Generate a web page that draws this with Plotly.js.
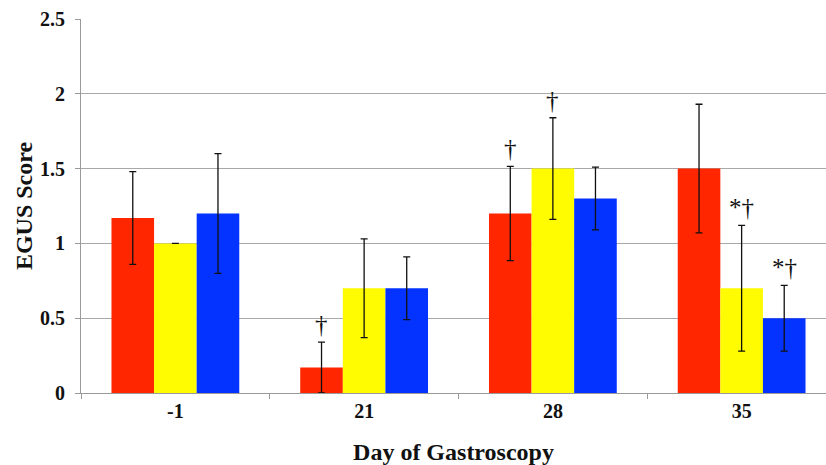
<!DOCTYPE html>
<html>
<head>
<meta charset="utf-8">
<script src="https://cdn.plot.ly/plotly-3.0.1.min.js"></script>
<style>html,body{margin:0;padding:0;background:#fff;}#chart{width:826px;height:465px;}</style>
</head>
<body>
<div id="chart"></div>
<script>
const days = ['-1', '21', '28', '35'];
const redValues = [1.17, 0.17, 1.20, 1.50];
const redErrors = [0.31, 0.17, 0.315, 0.43];
const yellowValues = [1.00, 0.70, 1.50, 0.70];
const yellowErrors = [0.0, 0.33, 0.34, 0.42];
const blueValues = [1.20, 0.70, 1.30, 0.50];
const blueErrors = [0.40, 0.21, 0.21, 0.22];
const redMarks = ['', '†', '†', ''];
const yellowMarks = ['', '', '†', '*†'];
const blueMarks = ['', '', '', '*†'];

const SERIF = '"Liberation Serif", "Times New Roman", serif';
const errStyle = {type: 'data', visible: true, color: '#111', thickness: 1.3, width: 3.5};
function series(vals, errs, color) {
  return {
    type: 'bar', x: days, y: vals,
    marker: {color: color, line: {width: 0}},
    error_y: Object.assign({array: errs}, errStyle),
    hoverinfo: 'none'
  };
}
const data = [
  series(redValues, redErrors, '#FF2600'),
  series(yellowValues, yellowErrors, '#FFFB00'),
  series(blueValues, blueErrors, '#0433FF')
];

const groupFrac = 0.677;
const barW = groupFrac / 3;
const annotations = [];
[[redMarks, redValues, redErrors, -1], [yellowMarks, yellowValues, yellowErrors, 0], [blueMarks, blueValues, blueErrors, 1]]
  .forEach(([marks, vals, errs, k]) => {
    marks.forEach((m, i) => {
      if (!m) return;
      annotations.push({
        x: i + k * barW, y: vals[i] + errs[i], xref: 'x', yref: 'y',
        text: m, showarrow: false, yanchor: 'bottom', yshift: 2,
        font: {family: SERIF, size: 25, color: '#111'}
      });
    });
  });

const layout = {
  width: 826, height: 465,
  margin: {l: 81, r: 0, t: 19, b: 72},
  paper_bgcolor: '#fff', plot_bgcolor: '#fff',
  barmode: 'group', bargap: 1 - groupFrac, bargroupgap: 0,
  showlegend: false,
  font: {family: SERIF, color: '#111'},
  xaxis: {
    type: 'category', range: [-0.5, 3.447],
    showline: true, linecolor: '#9a9a9a', linewidth: 1,
    ticks: 'outside', tickson: 'boundaries', ticklen: 5, tickcolor: '#9a9a9a',
    tickfont: {size: 20, family: SERIF, weight: 'bold', color: '#111'},
    title: {text: '<b>Day of Gastroscopy</b>', font: {size: 24, family: SERIF}, standoff: 24},
    showgrid: false, zeroline: false
  },
  yaxis: {
    range: [0, 2.5], dtick: 0.5,
    showline: true, linecolor: '#9a9a9a', linewidth: 1,
    ticks: 'outside', ticklen: 5, tickcolor: '#9a9a9a',
    ticklabelstandoff: 6,
    showgrid: true, gridcolor: '#a8a8a8', gridwidth: 1,
    zeroline: false,
    tickfont: {size: 20, family: SERIF, weight: 'bold', color: '#111'},
    title: {text: '<b>EGUS Score</b>', font: {size: 24, family: SERIF}, standoff: 0}
  },
  annotations: annotations
};
Plotly.newPlot('chart', data, layout, {displayModeBar: false, staticPlot: true});
</script>
</body>
</html>
